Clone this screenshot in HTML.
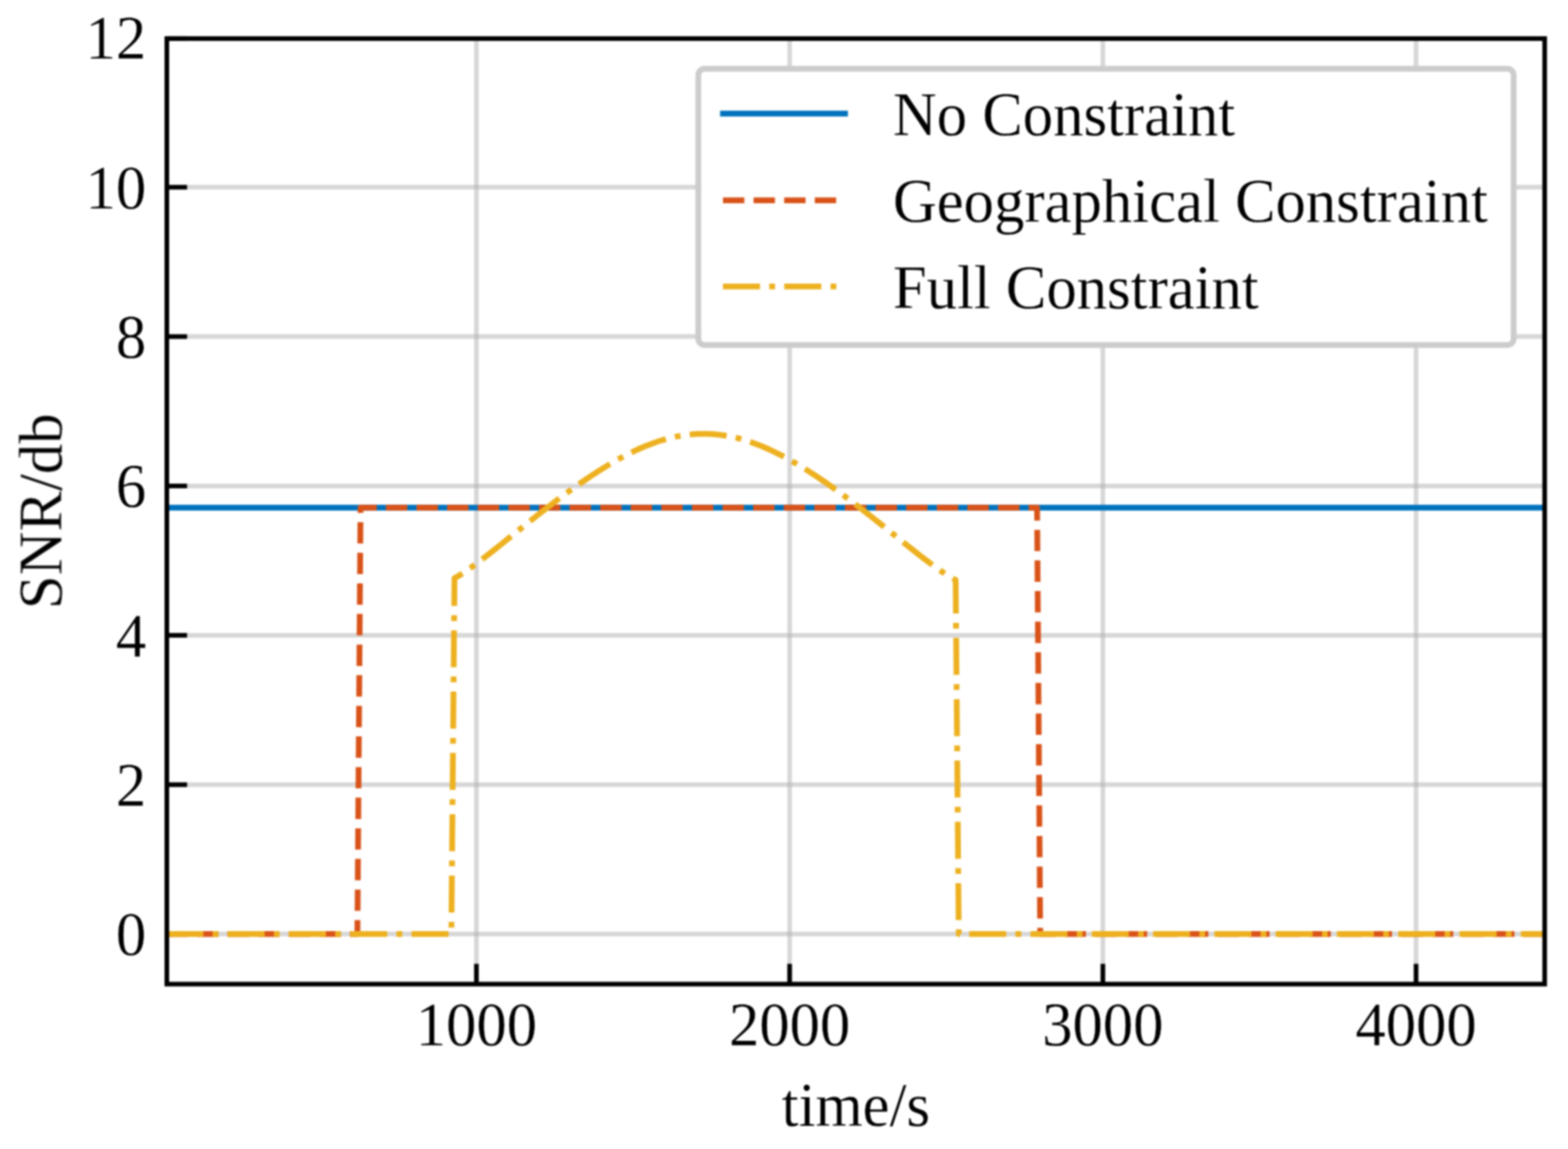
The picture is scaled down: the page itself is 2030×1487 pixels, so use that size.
<!DOCTYPE html>
<html lang="en"><head><meta charset="utf-8"><title>SNR over time</title>
<style>
html,body{margin:0;padding:0;background:#fff;}
body{width:2030px;height:1487px;overflow:hidden;}
svg{display:block;}
text{font-family:"Liberation Serif",serif;font-size:78.6px;fill:#000;stroke:#fff;stroke-width:0.25px;stroke-linejoin:round;}
</style></head><body>
<svg width="2030" height="1487" viewBox="0 0 2030 1487">
<defs>
<clipPath id="axclip"><rect x="216" y="49.9" width="1783.8" height="1223.7"/></clipPath>
<filter id="soft" filterUnits="userSpaceOnUse" x="0" y="0" width="2030" height="1487" color-interpolation-filters="sRGB"><feGaussianBlur stdDeviation="1"/></filter>
<filter id="softt" filterUnits="userSpaceOnUse" x="0" y="0" width="2030" height="1487" color-interpolation-filters="sRGB"><feGaussianBlur stdDeviation="1"/></filter>
</defs>
<rect width="2030" height="1487" fill="#fff"/>
<g filter="url(#soft)">
<!-- grid -->
<g stroke="#b0b0b0" stroke-opacity="0.5" stroke-width="6" fill="none" clip-path="url(#axclip)">
<line x1="616.8" y1="49.9" x2="616.8" y2="1273.6"/>
<line x1="1022.3" y1="49.9" x2="1022.3" y2="1273.6"/>
<line x1="1427.8" y1="49.9" x2="1427.8" y2="1273.6"/>
<line x1="1833.3" y1="49.9" x2="1833.3" y2="1273.6"/>
<line x1="216" y1="1208.8" x2="1999.8" y2="1208.8"/>
<line x1="216" y1="1015.5" x2="1999.8" y2="1015.5"/>
<line x1="216" y1="822.2" x2="1999.8" y2="822.2"/>
<line x1="216" y1="628.9" x2="1999.8" y2="628.9"/>
<line x1="216" y1="435.6" x2="1999.8" y2="435.6"/>
<line x1="216" y1="242.3" x2="1999.8" y2="242.3"/>
<line x1="216" y1="49.9" x2="1999.8" y2="49.9"/>
</g>
<!-- ticks -->
<g stroke="#000" stroke-width="6" fill="none">
<line x1="616.8" y1="1273.6" x2="616.8" y2="1247.4"/>
<line x1="1022.3" y1="1273.6" x2="1022.3" y2="1247.4"/>
<line x1="1427.8" y1="1273.6" x2="1427.8" y2="1247.4"/>
<line x1="1833.3" y1="1273.6" x2="1833.3" y2="1247.4"/>
<line x1="216" y1="1208.8" x2="242.2" y2="1208.8"/>
<line x1="216" y1="1015.5" x2="242.2" y2="1015.5"/>
<line x1="216" y1="822.2" x2="242.2" y2="822.2"/>
<line x1="216" y1="628.9" x2="242.2" y2="628.9"/>
<line x1="216" y1="435.6" x2="242.2" y2="435.6"/>
<line x1="216" y1="242.3" x2="242.2" y2="242.3"/>
<line x1="216" y1="49.9" x2="242.2" y2="49.9"/>
</g>
<!-- data series -->
<g fill="none" stroke-width="7.48" stroke-linejoin="round" clip-path="url(#axclip)">
<path stroke="#0072BD" stroke-linecap="square" d="M215.35 657.03 L1999.56 657.03"/>
<path stroke="#D95319" stroke-dasharray="27.66 11.96" d="M215.35 1208.8 L462.71 1208.8 L466.76 657.03 L1342.64 657.03 L1346.7 1208.8 L1999.56 1208.8"/>
<path stroke="#EDB120" stroke-dasharray="47.91 11.98 7.49 11.98" d="M215.35 1208.8 L584.36 1208.8 L588.41 748.32 L592.47 745.95 L596.52 743.45 L600.58 740.82 L604.63 738.08 L608.69 735.26 L612.75 732.35 L616.8 729.38 L620.85 726.34 L624.91 723.25 L628.96 720.12 L633.02 716.96 L637.07 713.76 L641.13 710.54 L645.18 707.31 L649.24 704.06 L653.29 700.8 L657.35 697.54 L661.4 694.27 L665.46 691 L669.51 687.74 L673.57 684.49 L677.62 681.24 L681.68 678 L685.73 674.77 L689.79 671.56 L693.84 668.36 L697.9 665.18 L701.95 662.02 L706.01 658.88 L710.06 655.75 L714.12 652.65 L718.17 649.57 L722.23 646.52 L726.28 643.49 L730.34 640.49 L734.39 637.51 L738.45 634.57 L742.5 631.66 L746.56 628.78 L750.62 625.93 L754.67 623.12 L758.72 620.35 L762.78 617.62 L766.83 614.93 L770.89 612.28 L774.94 609.67 L779 607.11 L783.05 604.6 L787.11 602.14 L791.16 599.74 L795.22 597.39 L799.27 595.09 L803.33 592.85 L807.38 590.68 L811.44 588.56 L815.49 586.52 L819.55 584.53 L823.61 582.62 L827.66 580.78 L831.71 579.01 L835.77 577.32 L839.82 575.7 L843.88 574.17 L847.93 572.71 L851.99 571.33 L856.04 570.04 L860.1 568.84 L864.15 567.72 L868.21 566.69 L872.26 565.75 L876.32 564.9 L880.38 564.14 L884.43 563.47 L888.48 562.9 L892.54 562.42 L896.6 562.04 L900.65 561.75 L904.7 561.56 L908.76 561.46 L912.81 561.46 L916.87 561.56 L920.92 561.75 L924.98 562.04 L929.03 562.42 L933.09 562.9 L937.14 563.47 L941.2 564.14 L945.25 564.9 L949.31 565.75 L953.37 566.69 L957.42 567.72 L961.47 568.84 L965.53 570.04 L969.59 571.33 L973.64 572.71 L977.69 574.17 L981.75 575.7 L985.8 577.32 L989.86 579.01 L993.91 580.78 L997.97 582.62 L1002.02 584.53 L1006.08 586.52 L1010.13 588.56 L1014.19 590.68 L1018.24 592.85 L1022.3 595.09 L1026.36 597.39 L1030.41 599.74 L1034.46 602.14 L1038.52 604.6 L1042.57 607.11 L1046.63 609.67 L1050.68 612.28 L1054.74 614.93 L1058.8 617.62 L1062.85 620.35 L1066.9 623.12 L1070.96 625.93 L1075.01 628.78 L1079.07 631.66 L1083.12 634.57 L1087.18 637.51 L1091.23 640.49 L1095.29 643.49 L1099.35 646.52 L1103.4 649.57 L1107.45 652.65 L1111.51 655.75 L1115.57 658.88 L1119.62 662.02 L1123.67 665.18 L1127.73 668.36 L1131.78 671.56 L1135.84 674.77 L1139.89 678 L1143.95 681.24 L1148.01 684.49 L1152.06 687.74 L1156.12 691 L1160.17 694.27 L1164.22 697.54 L1168.28 700.8 L1172.34 704.06 L1176.39 707.31 L1180.44 710.54 L1184.5 713.76 L1188.55 716.96 L1192.61 720.12 L1196.66 723.25 L1200.72 726.34 L1204.78 729.38 L1208.83 732.35 L1212.88 735.26 L1216.94 738.08 L1220.99 740.82 L1225.05 743.45 L1229.11 745.95 L1233.16 748.32 L1237.21 750.54 L1241.27 1208.8 L1999.56 1208.8"/>
</g>
<!-- axes frame -->
<rect x="216" y="49.9" width="1783.8" height="1223.7" fill="none" stroke="#000" stroke-width="6"/>
<!-- legend frame and handles -->
<rect x="904.1" y="89" width="1055.5" height="357.5" rx="8" ry="8" fill="#fff" stroke="#cccccc" stroke-width="7.48"/>
<g fill="none" stroke-width="7.48">
<line x1="936" y1="147" x2="1094" y2="147" stroke="#0072BD" stroke-linecap="square"/>
<line x1="936" y1="259.3" x2="1094" y2="259.3" stroke="#D95319" stroke-dasharray="27.66 11.96"/>
<line x1="936" y1="370.8" x2="1094" y2="370.8" stroke="#EDB120" stroke-dasharray="47.91 11.98 7.49 11.98"/>
</g>
</g>
<g filter="url(#softt)">
<!-- y tick labels -->
<text text-anchor="end" transform="translate(189.4 1236.2) scale(1 1.03)">0</text>
<text text-anchor="end" transform="translate(189.4 1042.9) scale(1 1.03)">2</text>
<text text-anchor="end" transform="translate(189.4 849.6) scale(1 1.03)">4</text>
<text text-anchor="end" transform="translate(189.4 656.3) scale(1 1.03)">6</text>
<text text-anchor="end" transform="translate(189.4 463) scale(1 1.03)">8</text>
<text text-anchor="end" transform="translate(189.4 269.7) scale(1 1.03)">10</text>
<text text-anchor="end" transform="translate(189.4 76.4) scale(1 1.03)">12</text>
<!-- x tick labels -->
<text text-anchor="middle" transform="translate(616.8 1353.2) scale(1 1.03)">1000</text>
<text text-anchor="middle" transform="translate(1022.3 1353.2) scale(1 1.03)">2000</text>
<text text-anchor="middle" transform="translate(1427.8 1353.2) scale(1 1.03)">3000</text>
<text text-anchor="middle" transform="translate(1833.3 1353.2) scale(1 1.03)">4000</text>
<!-- axis labels -->
<text text-anchor="middle" transform="translate(1108.1 1456.8) scale(1 1.03)">time/s</text>
<text text-anchor="middle" transform="translate(79.8 661.6) rotate(-90) scale(1 1.03)">SNR/db</text>
<!-- legend labels -->
<text transform="translate(1156 175) scale(1 1.03)">No Constraint</text>
<text transform="translate(1156 287.3) scale(1 1.03)">Geographical Constraint</text>
<text transform="translate(1156 398.8) scale(1 1.03)">Full Constraint</text>
</g>
</svg></body></html>
